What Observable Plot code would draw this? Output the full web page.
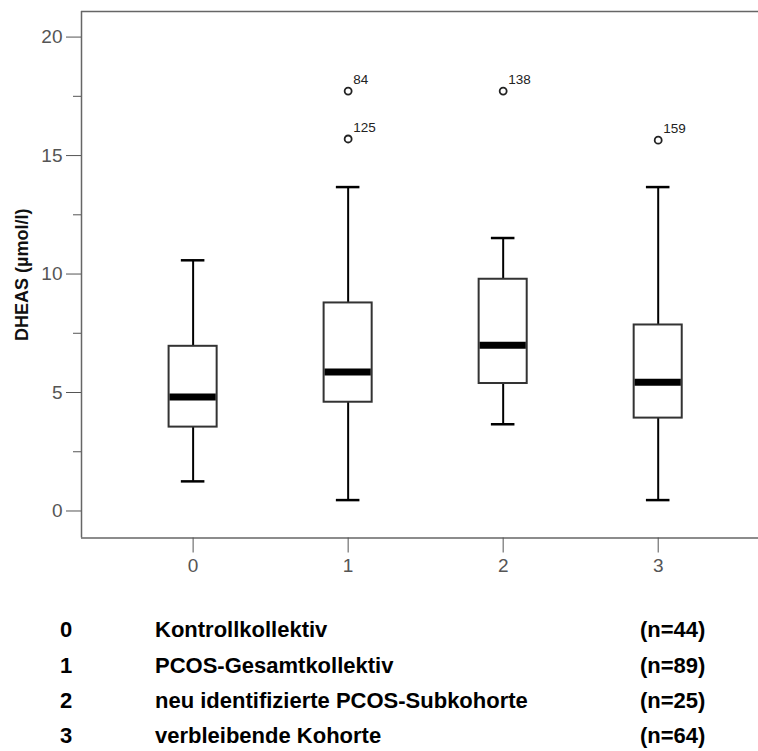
<!DOCTYPE html>
<html>
<head>
<meta charset="utf-8">
<script src="https://cdn.jsdelivr.net/npm/d3@7"></script>
<script src="https://cdn.jsdelivr.net/npm/@observablehq/plot@0.6"></script>
<style>
  html, body { margin: 0; padding: 0; background: #fff; }
  #wrap { position: relative; width: 758px; height: 751px; overflow: hidden; }
  .leg { position: absolute; font-family: "Liberation Sans", Arial, sans-serif; font-weight: bold; font-size: 22px; line-height: 22px; color: #000; white-space: nowrap; }
</style>
</head>
<body>
<div id="wrap"></div>
<script>
// ---- data ----
const groups = [0, 1, 2, 3];
const whiskerLow = [1.25, 0.46, 3.66, 0.46];
const q1 = [3.54, 4.59, 5.38, 3.92];
const median = [4.81, 5.87, 6.99, 5.43];
const q3 = [6.95, 8.78, 9.78, 7.85];
const whiskerHigh = [10.58, 13.67, 11.52, 13.67];

const outlierGroup = [1, 1, 2, 3];
const outlierValue = [17.72, 15.70, 17.72, 15.65];
const outlierId = ["84", "125", "138", "159"];

const yTicks = [0, 5, 10, 15, 20];
const yMinorTicks = [2.5, 7.5, 12.5, 17.5];
const xTicks = [0, 1, 2, 3];
const yLabel = "DHEAS (µmol/l)";

const legendCodes = ["0", "1", "2", "3"];
const legendNames = ["Kontrollkollektiv", "PCOS-Gesamtkollektiv", "neu identifizierte PCOS-Subkohorte", "verbleibende Kohorte"];
const legendN = ["(n=44)", "(n=89)", "(n=25)", "(n=64)"];

// ---- scales ----
const xDomain = [-0.72, 3.647];
const yDomain = [-1.14, 21.08];

// ---- tables ----
const boxes = groups.map((g, i) => ({g, lo: whiskerLow[i], q1: q1[i], med: median[i], q3: q3[i], hi: whiskerHigh[i]}));
const outliers = outlierGroup.map((g, i) => ({g, v: outlierValue[i], id: outlierId[i]}));

const boxHalf = 0.155;
const capHalf = 0.076;

const chart = Plot.plot({
  width: 758,
  height: 600,
  marginLeft: 81,
  marginRight: 0,
  marginTop: 11,
  marginBottom: 62.5,
  style: {fontFamily: '"Liberation Sans", Arial, sans-serif', background: "#fff"},
  x: {type: "linear", domain: xDomain},
  y: {type: "linear", domain: yDomain},
  marks: [
    // open frame: top, left, bottom
    Plot.ruleY(yDomain, {stroke: "#666", strokeWidth: 1.5}),
    Plot.ruleX([xDomain[0]], {stroke: "#666", strokeWidth: 1.5}),
    Plot.axisY(yTicks, {tickSize: 15, tickPadding: 4, fontSize: 19, stroke: "#555", fill: "#555", label: null}),
    Plot.axisY(yMinorTicks, {tickSize: 8, tickFormat: () => "", stroke: "#555", label: null}),
    Plot.axisX(xTicks, {tickSize: 15, tickPadding: 5, fontSize: 19, stroke: "#555", fill: "#555", label: null, tickFormat: d3.format("d")}),
    Plot.text([yLabel], {frameAnchor: "left", dx: -59, rotate: -90, fontSize: 18, fontWeight: "bold", fill: "#111", textAnchor: "middle", lineAnchor: "middle"}),
    Plot.ruleX(boxes, {x: "g", y1: "lo", y2: "hi", stroke: "#000", strokeWidth: 2}),
    Plot.ruleY(boxes, {y: "lo", x1: d => d.g - capHalf, x2: d => d.g + capHalf, stroke: "#000", strokeWidth: 2.5}),
    Plot.ruleY(boxes, {y: "hi", x1: d => d.g - capHalf, x2: d => d.g + capHalf, stroke: "#000", strokeWidth: 2.5}),
    Plot.rect(boxes, {x1: d => d.g - boxHalf, x2: d => d.g + boxHalf, y1: "q1", y2: "q3", fill: "#fff", stroke: "#333", strokeWidth: 2}),
    Plot.ruleY(boxes, {y: "med", x1: d => d.g - boxHalf + 0.006, x2: d => d.g + boxHalf - 0.006, stroke: "#000", strokeWidth: 7}),
    Plot.dot(outliers, {x: "g", y: "v", r: 3.5, stroke: "#222", strokeWidth: 1.8, fill: "#fff"}),
    Plot.text(outliers, {x: "g", y: "v", text: "id", dx: 5, dy: -7, textAnchor: "start", lineAnchor: "bottom", fontSize: 13.5, fill: "#222"})
  ]
});

const wrap = document.getElementById("wrap");
chart.style.position = "absolute";
chart.style.left = "0px";
chart.style.top = "0px";
wrap.appendChild(chart);

// legend below the chart
const rowTop = [619.4, 654.9, 689.9, 725.4];
legendCodes.forEach((c, i) => {
  const cells = [[c, 60], [legendNames[i], 155], [legendN[i], 640]];
  cells.forEach(([t, x]) => {
    const el = document.createElement("div");
    el.className = "leg";
    el.textContent = t;
    el.style.left = x + "px";
    el.style.top = rowTop[i] + "px";
    wrap.appendChild(el);
  });
});
</script>
</body>
</html>
